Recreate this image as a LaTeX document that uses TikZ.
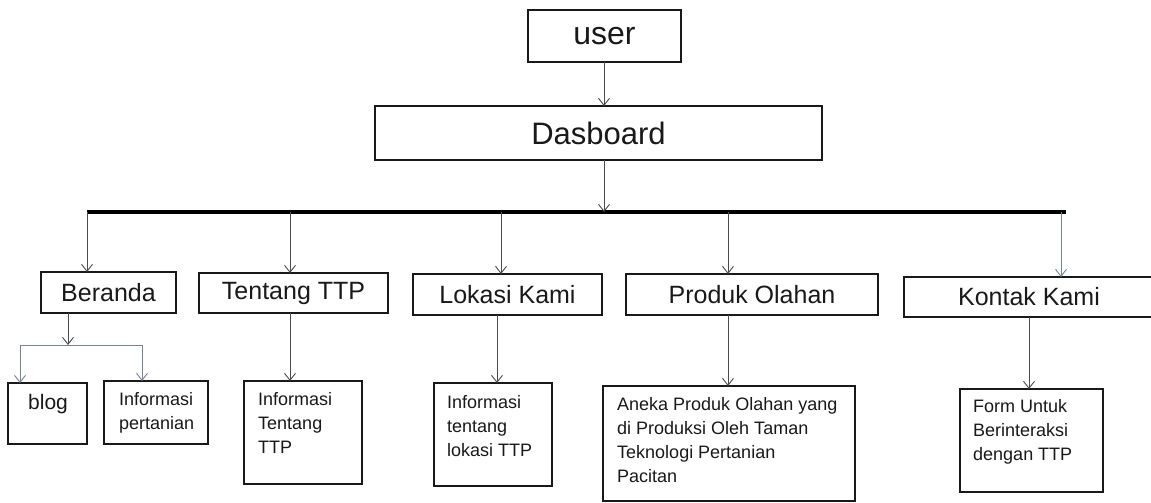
\documentclass[tikz,border=0pt]{standalone}
\usepackage{fontspec}
\setmainfont{Liberation Sans}
\usetikzlibrary{arrows.meta}
\begin{document}
\begin{tikzpicture}[x=1pt,y=-1pt,
  box/.style={draw=black!90, line width=1.8pt, inner sep=0pt, outer sep=0pt},
  arr/.style={-{Straight Barb[length=7pt,width=11pt]}, line width=0.9pt, draw=black!70},
  arrlight/.style={-{Straight Barb[length=7pt,width=11pt]}, line width=0.9pt, draw={rgb,255:red,120;green,130;blue,150}},
  lvltwo/.style={box, font=\fontsize{25}{30}\selectfont, text=black!90},
  small/.style={anchor=north west, align=left, inner sep=0pt, font=\fontsize{18}{24}\selectfont, text=black!90},
  bus/.style={line width=3.5pt, draw=black}]
\useasboundingbox (0,0) rectangle (1151,503);
\fill[white] (0,0) rectangle (1151,503);
% top
\node[box, minimum width=153pt, minimum height=52pt, font=\fontsize{32}{36}\selectfont, text=black!90] (user) at (604.5,36) {user};
\node[box, minimum width=447pt, minimum height=54pt, font=\fontsize{31}{36}\selectfont, text=black!90] (dash) at (598.5,133) {Dasboard};
% bus
\coordinate (busL) at (87,212);
\coordinate (busR) at (1066,212);
\coordinate (busM) at (604,212);
\draw[bus] (busL) -- (busR);
\draw[arr] (604,62) coordinate (uo) -- (uo |- dash.north);
\draw[arr] (uo |- dash.south) -- (busM);
% level two
\node[lvltwo, minimum width=135pt, minimum height=41pt] (ber) at (108.5,292.5) {Beranda};
\node[lvltwo, minimum width=189pt, minimum height=40pt] (ten) at (293.5,293) {Tentang TTP};
\node[lvltwo, minimum width=189pt, minimum height=41pt] (lok) at (507.5,294.5) {Lokasi Kami};
\node[lvltwo, minimum width=252pt, minimum height=41pt] (pro) at (752,294.5) {Produk Olahan};
\node[lvltwo, minimum width=250pt, minimum height=40pt] (kon) at (1029,297) {Kontak Kami};
\coordinate (b1) at (87,212);
\coordinate (b2) at (290,212);
\coordinate (b3) at (501,212);
\coordinate (b4) at (728,212);
\coordinate (b5) at (1061,212);
\draw[arr] (b1) -- (b1 |- ber.north);
\draw[arr] (b2) -- (b2 |- ten.north);
\draw[arr] (b3) -- (b3 |- lok.north);
\draw[arr] (b4) -- (b4 |- pro.north);
\draw[arrlight] (b5) -- (b5 |- kon.north);
% level three boxes
\node[box, minimum width=79pt, minimum height=61pt] (blog) at (47.5,413.5) {};
\node[box, minimum width=104pt, minimum height=63pt] (ipt) at (156,412.5) {};
\node[box, minimum width=118pt, minimum height=103pt] (iten) at (303,432.5) {};
\node[box, minimum width=118pt, minimum height=103pt] (ilok) at (493,434.5) {};
\node[box, minimum width=252pt, minimum height=115pt] (ipro) at (729,443.5) {};
\node[box, minimum width=143pt, minimum height=103pt] (ikon) at (1031.5,440.5) {};
% texts
\node[anchor=base west, inner sep=0pt, font=\fontsize{21}{24}\selectfont, text=black!90] (tblog) at (28,409.5) {blog};
\node[small] (tipt) at ([shift={(15,11)}]ipt.north west) {Informasi\\pertanian};
\node[small] (titen) at ([shift={(14,11)}]iten.north west) {Informasi\\Tentang\\TTP};
\node[small] (tilok) at ([shift={(13,12)}]ilok.north west) {Informasi\\tentang\\lokasi TTP};
\node[small] (tipro) at ([shift={(14,11)}]ipro.north west) {Aneka Produk Olahan yang\\di Produksi Oleh Taman\\Teknologi Pertanian\\Pacitan};
\node[small] (tikon) at ([shift={(13,10)}]ikon.north west) {Form Untuk\\Berinteraksi\\dengan TTP};
% Beranda split
\coordinate (bs) at (68,345);
\coordinate (bsl) at (20,345);
\coordinate (bsr) at (142,345);
\draw[arr] (bs |- ber.south) -- (bs);
\draw[line width=0.9pt, draw={rgb,255:red,120;green,130;blue,150}] (bsl) -- (bsr);
\draw[arrlight] (bsl) -- (bsl |- blog.north);
\draw[arrlight] (bsr) -- (bsr |- ipt.north);
% down arrows
\draw[arr] (b2 |- ten.south) -- (b2 |- iten.north);
\draw[arr] (497,0 |- lok.south) coordinate (l3) -- (l3 |- ilok.north);
\draw[arr] (b4 |- pro.south) -- (b4 |- ipro.north);
\draw[arr] (1029,0 |- kon.south) coordinate (k3) -- (k3 |- ikon.north);
\end{tikzpicture}
\end{document}
